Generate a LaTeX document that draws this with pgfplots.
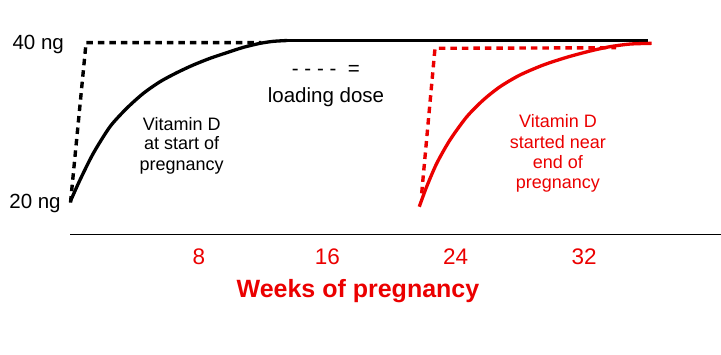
\documentclass[border=0pt]{standalone}
\usepackage{pgfplots}
\pgfplotsset{compat=1.18}
\usepackage{fontspec}
\setmainfont{Liberation Sans}
\definecolor{myred}{RGB}{235,0,0}
\newcommand{\fA}{\fontsize{20.5}{24}\selectfont}
\newcommand{\fB}{\fontsize{18}{22}\selectfont}
\newcommand{\fT}{\fontsize{25}{30}\selectfont\bfseries}
\begin{document}
\begin{tikzpicture}
\begin{axis}[
  x=16.05pt, y=8.025pt,
  xmin=-0.03, xmax=40.53, ymin=15.85, ymax=41,
  axis x line*=bottom, axis y line=none,
  axis line style={line width=1.2pt, black},
  xtick={8,16,24,32}, xticklabels={8,16,24,32},
  major tick length=0pt,
  xticklabel style={font=\fontsize{22.5}{26}\selectfont, text=myred, anchor=base, inner sep=0pt, yshift=-29.7pt},
  clip=false,
]
% dashed loading-dose curves
\addplot[black, line width=3.4pt, dash pattern=on 6.5pt off 5pt, line cap=butt] coordinates {
  (0,19.8) (0.97,39.73) (11.9,39.73)
};
\addplot[myred, line width=3.4pt, dash pattern=on 6.5pt off 5pt, line cap=butt] coordinates {
  (21.88,20.96) (22.71,39.03) (34.0,39.1)
};
% solid curves
\addplot[black, line width=3.3pt, line join=round, smooth, tension=0.45] coordinates {
  (0,20) (0.59,22.62) (1.42,25.94) (2.46,29.26) (3.50,31.55) (4.54,33.42)
  (5.58,34.87) (6.62,35.99) (7.65,36.95) (8.69,37.78) (9.73,38.48)
  (10.77,39.15) (11.81,39.65) (12.64,39.9) (13.5,40)
};
\addplot[black, line width=3.3pt] coordinates {(13.4,40) (35.98,40)};
\addplot[myred, line width=3.3pt, line join=round, smooth, tension=0.45] coordinates {
  (21.73,19.29) (22.19,21.78) (22.82,24.70) (23.64,27.60) (24.69,30.50)
  (25.72,32.59) (26.76,34.24) (28.00,35.70) (29.46,36.95) (30.92,37.91)
  (32.37,38.69) (33.61,39.23) (34.86,39.56) (36.21,39.65)
};
% labels
\node[anchor=base east, inner sep=0pt, font=\fA] at (axis cs:-0.40,38.90) {40 ng};
\node[anchor=base east, inner sep=0pt, font=\fA] at (axis cs:-0.60,19.09) {20 ng};
\node[anchor=base, inner sep=0pt, font=\fA] at (axis cs:15.91,35.70) {-\ -\ -\ -\ \ =};
\node[anchor=base, inner sep=0pt, font=\fA] at (axis cs:15.92,32.25) {loading dose};
\node[anchor=base, inner sep=0pt, font=\fB] at (axis cs:6.93,28.85) {Vitamin D};
\node[anchor=base, inner sep=0pt, font=\fB] at (axis cs:6.93,26.36) {at start of};
\node[anchor=base, inner sep=0pt, font=\fB] at (axis cs:6.93,23.86) {pregnancy};
\node[anchor=base, inner sep=0pt, font=\fB, text=myred] at (axis cs:30.37,29.13) {Vitamin D};
\node[anchor=base, inner sep=0pt, font=\fB, text=myred] at (axis cs:30.37,26.57) {started near};
\node[anchor=base, inner sep=0pt, font=\fB, text=myred] at (axis cs:30.37,24.08) {end of};
\node[anchor=base, inner sep=0pt, font=\fB, text=myred] at (axis cs:30.37,21.59) {pregnancy};
\node[anchor=base, inner sep=0pt, font=\fT, text=myred] at (axis cs:17.91,8.04) {Weeks of pregnancy};
\coordinate (BL) at (axis cs:-4.393,0.934);
\coordinate (TR) at (axis cs:40.53,45.05);
\end{axis}
\pgfresetboundingbox
\path[use as bounding box] (BL) rectangle (TR);
\end{tikzpicture}
\end{document}
